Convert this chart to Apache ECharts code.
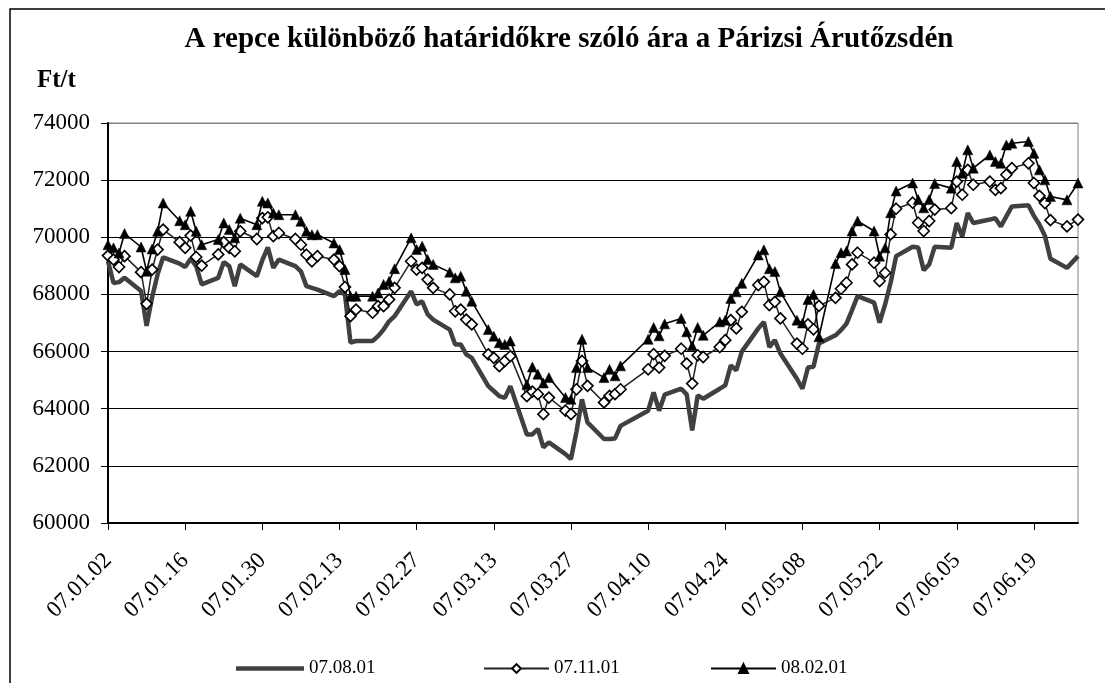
<!DOCTYPE html>
<html>
<head>
<meta charset="utf-8">
<script src="https://cdn.jsdelivr.net/npm/echarts@6/dist/echarts.min.js"></script>
<style>
  html, body { margin: 0; padding: 0; background: #fff; }
  #chart { width: 1105px; height: 683px; }
</style>
</head>
<body>
<div id="chart"></div>
<script>
// Trading dates (yy.mm.dd)
const dates = [
  '07.01.02','07.01.03','07.01.04','07.01.05','07.01.08','07.01.09','07.01.10','07.01.11','07.01.12','07.01.15','07.01.16','07.01.17','07.01.18','07.01.19','07.01.22','07.01.23','07.01.24','07.01.25','07.01.26','07.01.29','07.01.30','07.01.31',
  '07.02.01','07.02.02','07.02.05','07.02.06','07.02.07','07.02.08','07.02.09','07.02.12','07.02.13','07.02.14','07.02.15','07.02.16','07.02.19','07.02.20','07.02.21','07.02.22','07.02.23','07.02.26','07.02.27','07.02.28',
  '07.03.01','07.03.02','07.03.05','07.03.06','07.03.07','07.03.08','07.03.09','07.03.12','07.03.13','07.03.14','07.03.15','07.03.16','07.03.19','07.03.20','07.03.21','07.03.22','07.03.23','07.03.26','07.03.27','07.03.28','07.03.29','07.03.30',
  '07.04.02','07.04.03','07.04.04','07.04.05','07.04.10','07.04.11','07.04.12','07.04.13','07.04.16','07.04.17','07.04.18','07.04.19','07.04.20','07.04.23','07.04.24','07.04.25','07.04.26','07.04.27','07.04.30',
  '07.05.01','07.05.02','07.05.03','07.05.04','07.05.07','07.05.08','07.05.09','07.05.10','07.05.11','07.05.14','07.05.15','07.05.16','07.05.17','07.05.18','07.05.21','07.05.22','07.05.23','07.05.24','07.05.25','07.05.28','07.05.29','07.05.30','07.05.31',
  '07.06.01','07.06.04','07.06.05','07.06.06','07.06.07','07.06.08','07.06.11','07.06.12','07.06.13','07.06.14','07.06.15','07.06.18','07.06.19','07.06.20','07.06.21','07.06.22','07.06.25','07.06.27'
];

// 07.08.01 contract
const s070801 = [
  69160,68400,68430,68580,68120,66900,67900,68700,69300,69080,68960,69250,68990,68350,68580,69130,68990,68290,69050,68640,69200,69650,
  68930,69220,68990,68810,68290,68230,68170,67940,68110,68000,66310,66370,66370,66540,66770,67060,67240,68110,67650,67760,
  67300,67120,66770,66250,66250,65900,65780,64790,64620,64440,64380,64790,63100,63100,63290,62650,62820,62410,62240,63200,64330,63520,
  62940,62940,62960,63400,63930,64570,63930,64490,64700,64500,63240,64470,64350,64700,64820,65520,65340,66000,66810,
  67040,66160,66400,65930,65050,64700,65440,65470,66280,66570,66750,66980,67450,67940,67710,67010,67650,68410,69340,69670,69640,68850,69050,
  69670,69630,70500,70030,70850,70500,70620,70670,70380,70730,71080,71120,70750,70450,70050,69250,68930,69340
];

// 07.11.01 contract
const s071101 = [
  69360,69220,68960,69340,68780,67670,68870,69570,70270,69830,69630,70060,69310,69010,69400,69830,69630,69510,70210,69940,70670,70700,
  70040,70150,69940,69740,69390,69160,69340,69220,68990,68260,67240,67470,67360,67590,67590,67820,68230,69160,68870,68930,
  68520,68230,68000,67410,67470,67120,66950,65900,65780,65490,65670,65840,64440,64600,64510,63810,64390,63930,63810,64680,65670,64800,
  64220,64450,64510,64680,65380,65910,65440,65850,66100,65580,64880,65870,65810,66160,66400,67100,66810,67390,68330,
  68440,67630,67740,67160,66280,66100,66950,66780,67600,67880,68200,68410,69050,69460,69110,68470,68760,70100,71000,71210,70510,70220,70570,
  70970,71020,71950,71490,72360,71840,71950,71660,71720,72190,72420,72590,71900,71450,71200,70600,70380,70620
];

// 08.02.01 contract
const s080201 = [
  69740,69630,69450,70130,69660,68810,69590,70210,71200,70580,70440,70910,70210,69740,69920,70500,70270,69980,70670,70440,71260,71200,
  70850,70790,70790,70560,70210,70090,70090,69800,69570,68870,67940,67940,67940,68050,68350,68460,68900,69980,69570,69690,
  69220,69050,68780,68580,68640,68110,67760,66770,66540,66310,66250,66370,64850,65460,65210,64900,65090,64390,64330,65440,66430,65440,
  65090,65380,65150,65500,66430,66840,66550,66970,67160,66690,66200,66840,66570,67040,67100,67860,68090,68390,69380,
  69560,68900,68800,68090,67100,67000,67820,68000,66520,69080,69460,69520,70220,70570,70220,69340,69630,70860,71620,71900,71320,71030,71320,
  71880,71720,72650,72240,73060,72420,72880,72650,72590,73230,73290,73350,72940,72360,72010,71430,71310,71900
];

const tickLabels = ['07.01.02','07.01.16','07.01.30','07.02.13','07.02.27','07.03.13','07.03.27','07.04.10','07.04.24','07.05.08','07.05.22','07.06.05','07.06.19'];
const seriesNames = ['07.08.01','07.11.01','08.02.01'];
const yLabels = ['60000','62000','64000','66000','68000','70000','72000','74000'];

// day offset of each date from the first date (calendar days)
function dayOf(s) {
  const p = s.split('.');
  return Math.round((Date.UTC(2000 + +p[0], +p[1] - 1, +p[2]) - Date.UTC(2007, 0, 2)) / 86400000);
}
const xs = dates.map(dayOf);
const lastDay = xs[xs.length - 1];
const pairs = arr => arr.map((v, i) => [xs[i], v]);

const FONT = '"Liberation Serif"';
const chart = echarts.init(document.getElementById('chart'), null, { renderer: 'canvas' });

const legendBase = {
  itemWidth: 65, itemHeight: 11, itemGap: 10, top: 654,
  textStyle: { fontFamily: FONT, fontSize: 19, color: '#000' }
};

chart.setOption({
  animation: false,
  backgroundColor: '#fff',
  graphic: [
    { type: 'rect', shape: { x: 10, y: 9, width: 1300, height: 900 },
      style: { fill: null, stroke: '#000', lineWidth: 1.5 }, silent: true, z: 0 },
    { type: 'text', x: 569, y: 40,
      style: { text: 'A repce különböző határidőkre szóló ára a Párizsi Árutőzsdén',
               font: 'bold 29px "Liberation Serif"', fill: '#000',
               textAlign: 'center', textVerticalAlign: 'middle' } },
    { type: 'text', x: 37, y: 81,
      style: { text: 'Ft/t', font: 'bold 25px "Liberation Serif"', fill: '#000',
               textAlign: 'left', textVerticalAlign: 'middle' } }
  ],
  grid: { left: 108, top: 123, width: 970, height: 400, containLabel: false,
          show: true, borderColor: '#808080', borderWidth: 1, backgroundColor: 'transparent' },
  legend: [
    Object.assign({}, legendBase, { left: 231, itemWidth: 68, itemHeight: 4.5, icon: 'rect',
      data: [{ name: seriesNames[0], icon: 'rect', itemStyle: { color: '#404040' } }] }),
    Object.assign({}, legendBase, { left: 478, data: [seriesNames[1]] }),
    Object.assign({}, legendBase, { left: 705, data: [seriesNames[2]] })
  ],
  xAxis: {
    type: 'value', min: 0, max: lastDay, interval: 14,
    axisLine: { show: true, onZero: false, lineStyle: { color: '#000', width: 2 } },
    axisTick: { show: true, length: 7, inside: false, lineStyle: { color: '#000', width: 1 } },
    splitLine: { show: false },
    axisLabel: {
      rotate: 45, margin: 34, fontFamily: FONT, fontSize: 23, color: '#000',
      showMaxLabel: false,
      formatter: v => (v % 14 === 0 && tickLabels[v / 14]) ? tickLabels[v / 14] : ''
    }
  },
  yAxis: {
    type: 'value', min: 60000, max: 74000, interval: 2000,
    axisLine: { show: true, lineStyle: { color: '#000', width: 2 } },
    axisTick: { show: true, length: 7, inside: false, lineStyle: { color: '#000', width: 1 } },
    splitLine: { show: true, lineStyle: { color: ['#000','#000','#000','#000','#000','#000','#000','#808080'], width: 1 } },
    axisLabel: { margin: 18, fontFamily: FONT, fontSize: 23, color: '#000',
                 formatter: v => yLabels[(v - 60000) / 2000] || '' }
  },
  series: [
    { name: seriesNames[0], type: 'line', data: pairs(s070801), symbol: 'none',
      lineStyle: { color: '#404040', width: 4.5 }, itemStyle: { color: '#404040' }, z: 2 },
    { name: seriesNames[1], type: 'line', data: pairs(s071101), symbol: 'diamond', symbolSize: 11,
      showAllSymbol: true,
      lineStyle: { color: '#222', width: 1.5 },
      itemStyle: { color: '#fff', borderColor: '#000', borderWidth: 1.6 }, z: 3 },
    { name: seriesNames[2], type: 'line', data: pairs(s080201), symbol: 'triangle', symbolSize: 10,
      showAllSymbol: true,
      lineStyle: { color: '#000', width: 1.6 },
      itemStyle: { color: '#000', borderColor: '#000', borderWidth: 0.5 }, z: 4 }
  ]
});
</script>
</body>
</html>
